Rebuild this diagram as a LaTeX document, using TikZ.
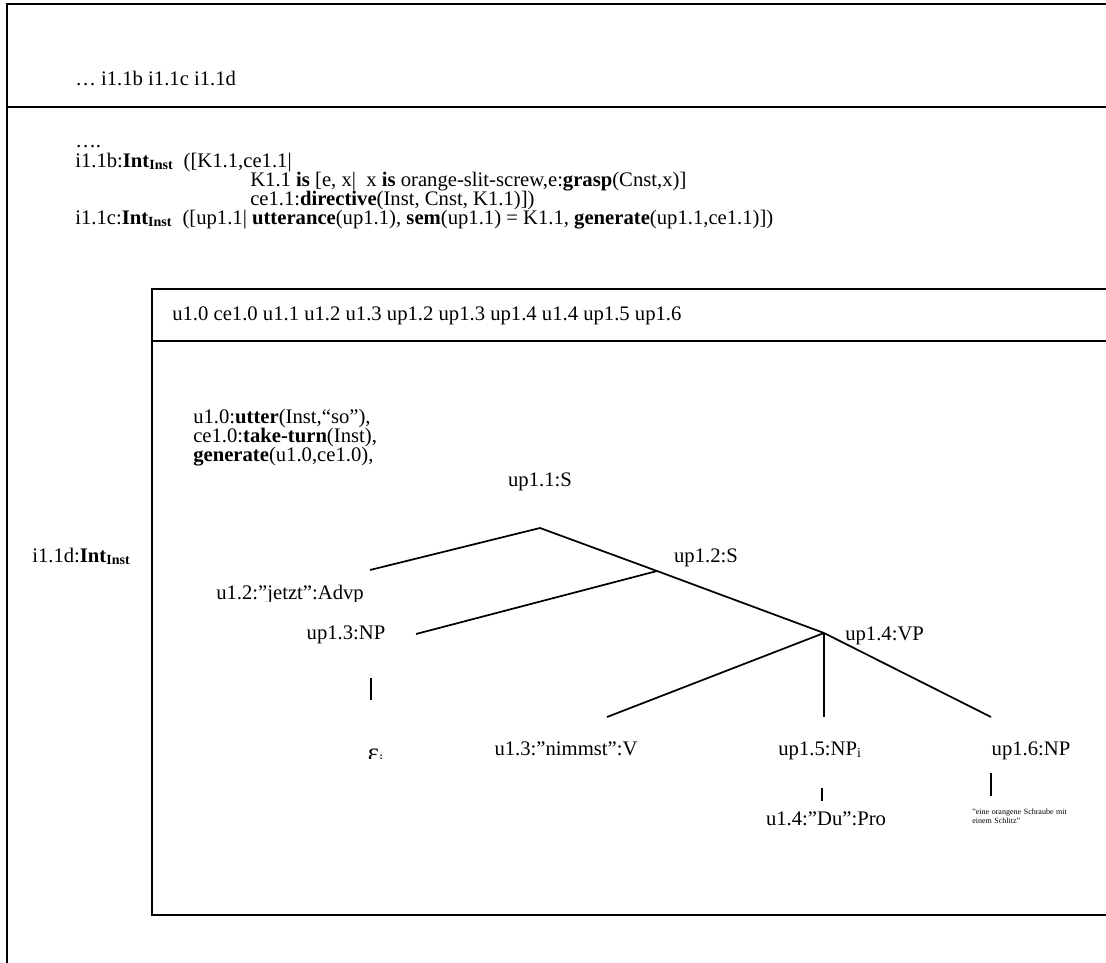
\documentclass[tikz,border=0pt]{standalone}
\usepackage{fontspec}
\setmainfont{Liberation Serif}
\begin{document}
\begin{tikzpicture}[x=0.75pt,y=-0.75pt,
  frame/.style={line width=1.2pt},
  branch/.style={line width=1.3pt},
  txt/.style={inner sep=0pt,anchor=base west,font=\fontsize{15.5}{17}\selectfont},
  lab/.style={inner sep=0pt,anchor=base,font=\fontsize{15.5}{17}\selectfont}]
\useasboundingbox (0,0) rectangle (1106,963);
\newcommand{\IntI}{\textbf{Int}\textsubscript{\textbf{\fontsize{10.5}{11}\selectfont Inst}}}
% frames
\coordinate (otl) at (7,4);
\coordinate (otr) at (1106,4);
\coordinate (obl) at (7,963);
\coordinate (oml) at (7,107);
\coordinate (omr) at (1106,107);
\draw[frame] (otr) -- (otl) -- (obl);
\draw[frame] (oml) -- (omr);
\coordinate (itl) at (152,289);
\coordinate (itr) at (1106,289);
\coordinate (ibl) at (152,915);
\coordinate (ibr) at (1106,915);
\coordinate (iml) at (152,341);
\coordinate (imr) at (1106,341);
\draw[frame] (itr) -- (itl) -- (ibl) -- (ibr);
\draw[frame] (iml) -- (imr);
% texts
\node[txt] (hdr) at (75,86) {… i1.1b i1.1c i1.1d};
\node[txt] (dots) at (75,148) {….};
\node[txt] (ib) at (75,167) {i1.1b:\IntI\ \ ([K1.1,ce1.1|};
\node[txt] (kb) at (250,186) {K1.1 \textbf{is} [e, x|\ \ x \textbf{is} orange-slit-screw,e:\textbf{grasp}(Cnst,x)]};
\node[txt] (cb) at (250,205) {ce1.1:\textbf{directive}(Inst, Cnst, K1.1)])};
\node[txt] (ic) at (75,224) {i1.1c:\IntI\ \ ([up1.1| \textbf{utterance}(up1.1), \textbf{sem}(up1.1) = K1.1, \textbf{generate}(up1.1,ce1.1)])};
\node[txt] (ihdr) at (172,320) {u1.0 ce1.0 u1.1 u1.2 u1.3 up1.2 up1.3 up1.4 u1.4 up1.5 up1.6};
\node[txt] (u10) at (193,423) {u1.0:\textbf{utter}(Inst,“so\symbol{34}),};
\node[txt] (ce10) at (193,442) {ce1.0:\textbf{take-turn}(Inst),};
\node[txt] (gen) at (193,461) {\textbf{generate}(u1.0,ce1.0),};
\node[txt] (id) at (32,562) {i1.1d:\IntI};
% tree labels
\node[lab] (s1) at (540,486) {up1.1:S};
\node[lab] (s2) at (706,562) {up1.2:S};
\begin{scope}
\clip (180,570) rectangle (420,601);
\node[lab] (adv) at (290,599) {u1.2:”jetzt”:Advp};
\end{scope}
\node[lab] (np3) at (346,639) {up1.3:NP};
\node[txt] (vp4) at (845,640) {up1.4:VP};
\node[lab] (v) at (566,755) {u1.3:”nimmst”:V};
\node[lab] (np5) at (820,755) {up1.5:NP\textsubscript{\fontsize{10.5}{11}\selectfont i}};
\node[lab] (np6) at (1031,755) {up1.6:NP};
\begin{scope}
\clip (350,735) rectangle (395,758);
\node[lab] (eps) at (376,761) {\fontsize{20}{22}\selectfont ε\textsubscript{\fontsize{12}{13}\selectfont i}};
\end{scope}
\node[lab] (pro) at (826,825) {u1.4:”Du”:Pro};
\node[inner sep=0pt,anchor=north west,font=\fontsize{6}{6.8}\selectfont,text width=72pt,align=left] (np6t) at (972,809) {\makebox[72pt][s]{”eine orangene Schraube mit}\\einem Schlitz”};
% tree branches
\coordinate (A) at (540,528);
\coordinate (L1) at (370,570);
\coordinate (J2) at (657,571);
\coordinate (L3) at (416,634);
\coordinate (V4) at (824,633);
\coordinate (Lv) at (607,717);
\coordinate (M5) at (824,717);
\coordinate (R6) at (991,717);
\coordinate (e1) at (371,678);
\coordinate (e2) at (371,700);
\coordinate (d1) at (822,788);
\coordinate (d2) at (822,801);
\coordinate (n1) at (991,773);
\coordinate (n2) at (991,796);
\draw[branch] (L1) -- (A) -- (J2) -- (V4);
\draw[branch] (J2) -- (L3);
\draw[branch] (V4) -- (Lv);
\draw[branch] (V4) -- (M5);
\draw[branch] (V4) -- (R6);
\draw[branch] (e1) -- (e2);
\draw[branch] (d1) -- (d2);
\draw[branch] (n1) -- (n2);
\end{tikzpicture}
\end{document}
